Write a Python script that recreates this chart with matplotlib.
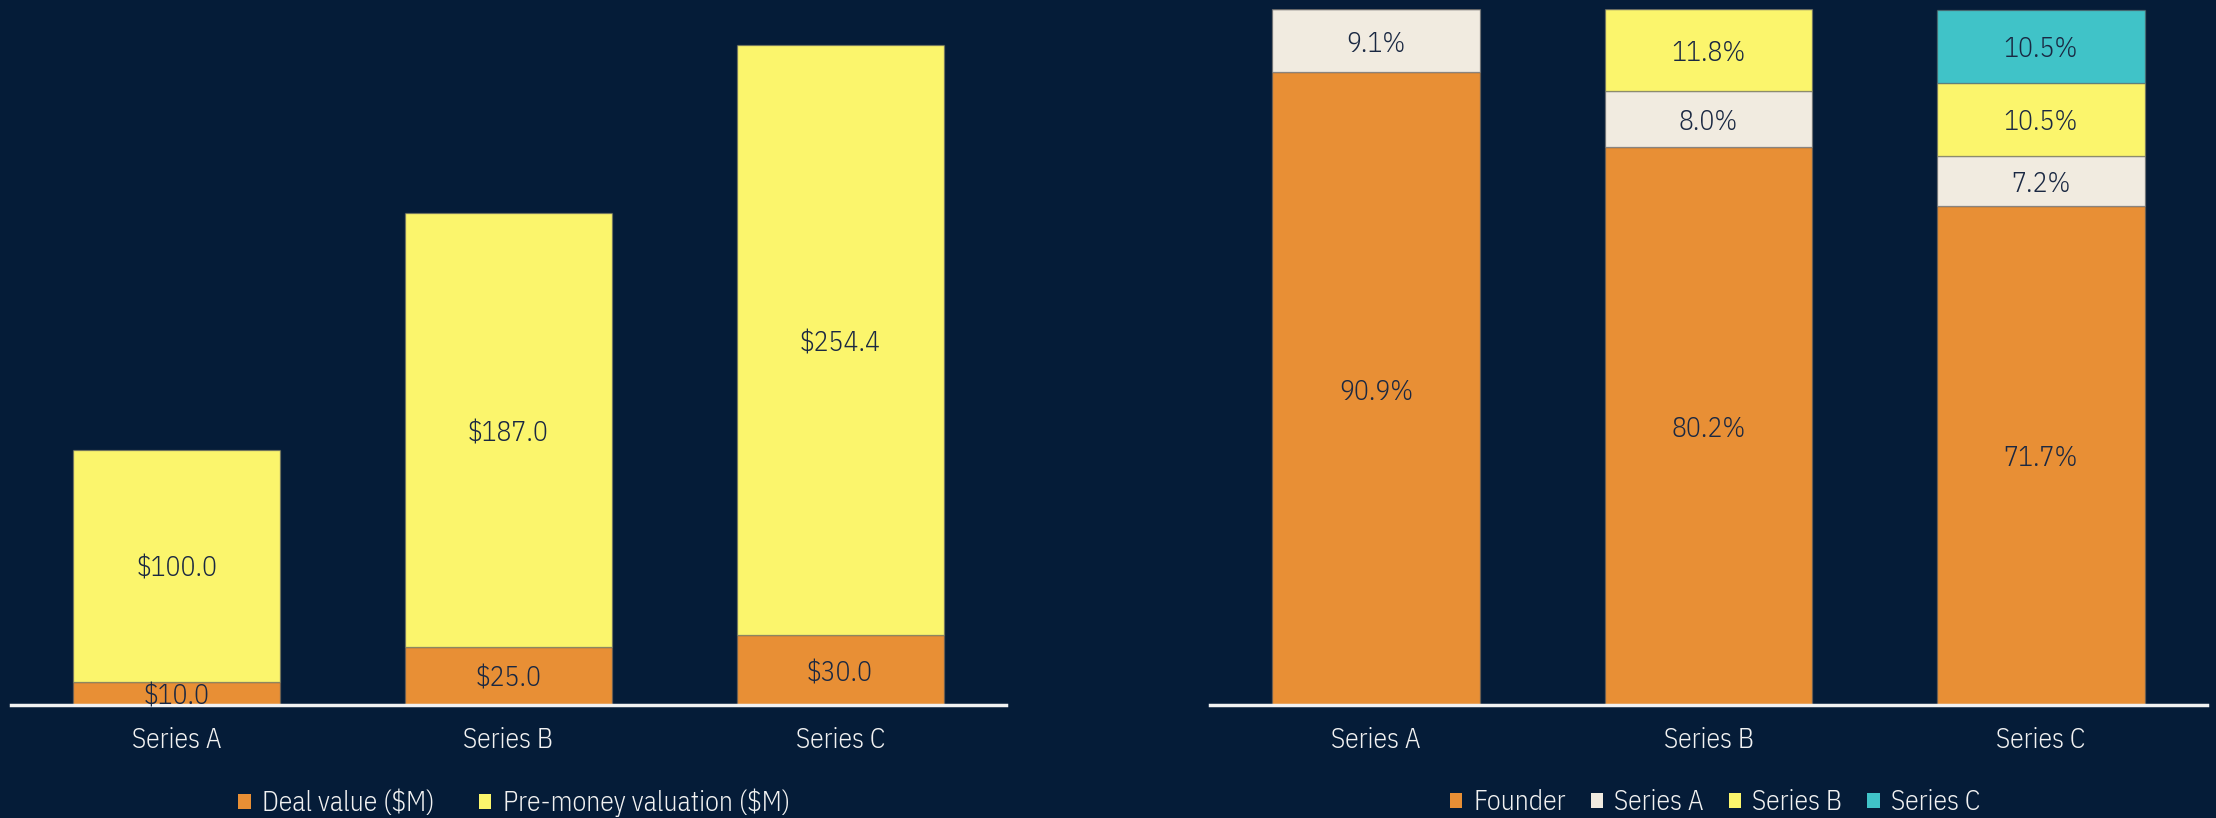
import matplotlib
matplotlib.use("Agg")
import matplotlib.pyplot as plt
from matplotlib.patches import Patch
from matplotlib import font_manager as fm
import numpy as np

rounds = ["Series A", "Series B", "Series C"]
deal_value = [10.0, 25.0, 30.0]
pre_money = [100.0, 187.0, 254.4]

own_founder = [90.9, 80.2, 71.7]
own_series_a = [9.1, 8.0, 7.2]
own_series_b = [0.0, 11.8, 10.5]
own_series_c = [0.0, 0.0, 10.5]

# choose a light condensed face if available
installed = {}
for f in fm.fontManager.ttflist:
    installed.setdefault(f.name, set()).add(f.weight)
preferred = ["IBM Plex Sans Condensed", "Open Sans Condensed", "Encode Sans Condensed",
             "Roboto Condensed", "Fira Sans Condensed", "Lato"]
family, weight = "DejaVu Sans", 400
for name in preferred:
    if name in installed:
        ws = installed[name]
        family = name
        weight = 300 if 300 in ws else 400
        break

plt.rcParams['text.parse_math'] = False
plt.rcParams['font.family'] = [family, 'DejaVu Sans']
plt.rcParams['font.weight'] = weight

BG = "#051c38"
ORANGE = "#e88f35"
YELLOW = "#fbf56c"
CREAM = "#f1ebe0"
TEAL = "#40c3c8"
LABEL = "#1a2842"
WHITE = "#f2f2f2"

W, H = 2216, 818
fig = plt.figure(figsize=(W / 100, H / 100), dpi=100, facecolor=BG)

base_y = 705
top_y = 9
ax1 = fig.add_axes([11 / W, (H - base_y) / H, 995 / W, (base_y - top_y) / H])
ax2 = fig.add_axes([1210 / W, (H - base_y) / H, 997 / W, (base_y - top_y) / H])

x = np.arange(len(rounds))
bw = 0.625
edge = dict(edgecolor=(0.4, 0.4, 0.4, 0.5), linewidth=1)
FS = 20


def label(ax, xv, yv, s):
    ax.annotate(s, (xv, yv), xytext=(0, -2.5), textcoords="offset points",
                ha="center", va="center", color=LABEL, fontsize=FS)


for ax in (ax1, ax2):
    ax.set_facecolor(BG)
    for s in ("top", "right", "left"):
        ax.spines[s].set_visible(False)
    ax.spines["bottom"].set_color(WHITE)
    ax.spines["bottom"].set_linewidth(2.5)
    ax.set_xlim(-0.5, 2.5)
    ax.set_yticks([])
    ax.set_xticks(x)
    ax.set_xticklabels(rounds, color=WHITE, fontsize=FS)
    ax.tick_params(axis="x", length=0, pad=16)

# Left chart
ax1.bar(x, deal_value, bw, color=ORANGE, **edge)
ax1.bar(x, pre_money, bw, bottom=deal_value, color=YELLOW, **edge)
ax1.set_ylim(0, 300)
for i in x:
    label(ax1, i, deal_value[i] / 2, f"${deal_value[i]:.1f}")
    label(ax1, i, deal_value[i] + pre_money[i] / 2, f"${pre_money[i]:.1f}")

# Right chart
series = [("Founder", own_founder, ORANGE), ("Series A", own_series_a, CREAM),
          ("Series B", own_series_b, YELLOW), ("Series C", own_series_c, TEAL)]
bottom = np.zeros(len(rounds))
for name, vals, col in series:
    vals = np.array(vals)
    ax2.bar(x, vals, bw, bottom=bottom, color=col, **edge)
    for i in x:
        if vals[i] > 0:
            label(ax2, i, bottom[i] + vals[i] / 2, f"{vals[i]:.1f}%")
    bottom += vals
ax2.set_ylim(0, 100)

leg_kw = dict(frameon=False, fontsize=FS, handlelength=0.45, handleheight=0.45,
              handletextpad=0.4, labelcolor=WHITE, loc="center")
l1 = ["Deal value ($M)", "Pre-money valuation ($M)"]
h1 = [Patch(facecolor=ORANGE), Patch(facecolor=YELLOW)]
fig.legend(h1, l1, ncol=2, columnspacing=1.6, bbox_to_anchor=(514 / W, (H - 803) / H), **leg_kw)
h2 = [Patch(facecolor=c) for _, _, c in series]
l2 = [n for n, _, _ in series]
fig.legend(h2, l2, ncol=4, columnspacing=0.9, bbox_to_anchor=(1715 / W, (H - 803) / H), **leg_kw)

fig.savefig("out.png", dpi=100, facecolor=BG)
